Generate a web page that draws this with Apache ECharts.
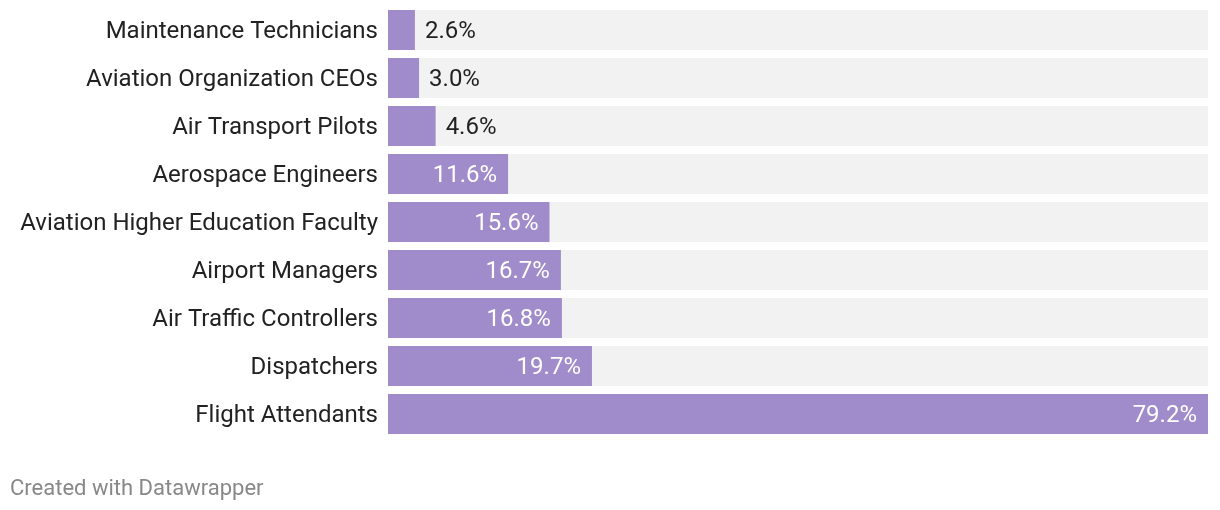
<!DOCTYPE html>
<html>
<head>
<meta charset="utf-8">
<script src="https://cdn.jsdelivr.net/npm/echarts@6/dist/echarts.min.js"></script>
<style>
html,body{margin:0;padding:0;background:#fff;}
#c{width:1220px;height:510px;}
</style>
</head>
<body>
<div id="c"></div>
<script>
const categories = ["Maintenance Technicians","Aviation Organization CEOs","Air Transport Pilots","Aerospace Engineers","Aviation Higher Education Faculty","Airport Managers","Air Traffic Controllers","Dispatchers","Flight Attendants"];
const values = [2.6, 3.0, 4.6, 11.6, 15.6, 16.7, 16.8, 19.7, 79.2];

const chart = echarts.init(document.getElementById('c'));
const data = values.map(v => {
  const inside = v >= 8;
  return {
    value: v,
    label: inside
      ? {position: 'insideRight', color: '#ffffff', distance: 11}
      : {position: 'right', color: '#222222', distance: 10}
  };
});
chart.setOption({
  animation: false,
  grid: {left: 388, right: 12, top: 6, bottom: 72, containLabel: false},
  xAxis: {type: 'value', min: 0, max: 79.2, show: false},
  yAxis: {
    type: 'category',
    data: categories,
    inverse: true,
    axisLine: {show: false},
    axisTick: {show: false},
    splitLine: {show: false},
    axisLabel: {
      margin: 10,
      formatter: v => '{a|' + v + '}',
      rich: {a: {color: '#222222', fontSize: 24, fontFamily: 'Roboto', padding: [4, 0, 0, 0]}}
    }
  },
  series: [{
    type: 'bar',
    data: data,
    barCategoryGap: '16.7%',
    itemStyle: {color: '#a08bcb'},
    showBackground: true,
    backgroundStyle: {color: '#f2f2f2'},
    label: {
      show: true,
      fontSize: 24,
      fontFamily: 'Roboto',
      offset: [0, 2],
      formatter: p => p.value.toFixed(1) + '%'
    }
  }],
  graphic: [{
    type: 'text',
    left: 10,
    top: 478,
    style: {text: 'Created with Datawrapper', fill: '#888888', font: '22px Roboto'}
  }]
});
</script>
</body>
</html>
